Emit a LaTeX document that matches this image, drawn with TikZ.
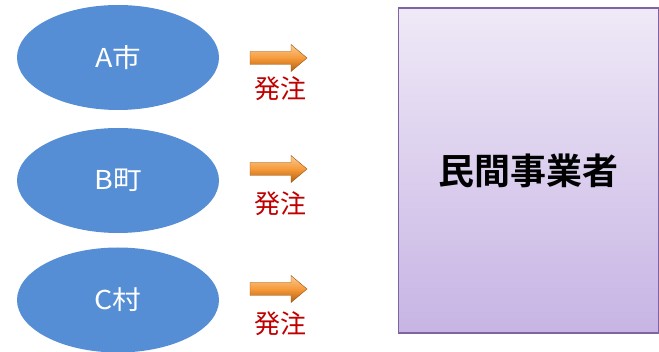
\documentclass[tikz,border=0pt]{standalone}
\usepackage{fontspec}
\usepackage{graphicx}
\newfontfamily\jp{Noto Sans CJK JP}
\newfontfamily\jpb{Noto Sans CJK JP Bold}
\definecolor{ellblue}{HTML}{558ED5}
\definecolor{hred}{HTML}{C00000}
\definecolor{pborder}{HTML}{8064A2}
\definecolor{ptop}{HTML}{EFE9F7}
\definecolor{pbot}{HTML}{C7B4E4}
\definecolor{otop}{HTML}{FCCB92}
\definecolor{omid}{HTML}{F59A3A}
\definecolor{obot}{HTML}{B5600E}
\usetikzlibrary{shapes.geometric}
\tikzset{
  city/.style={ellipse, fill=ellblue, minimum width=202pt, minimum height=105pt, inner sep=0pt, text=white, font=\jp\fontsize{26}{30}\selectfont},
  order/.style={text=hred, font=\jp\fontsize{26}{30}\selectfont, inner sep=0pt},
  biz/.style={draw=pborder, line width=1.5pt, top color=ptop, bottom color=pbot, minimum width=260pt, minimum height=325pt, inner sep=0pt, font=\jpb\fontsize{36}{40}\selectfont},
  arrowshade/.style={top color=otop, bottom color=obot, middle color=omid, draw=obot!85!black, line width=0.4pt},
}
\newcommand{\blockarrow}[2]{%
  \shade[arrowshade]
    (#1+0,#2-6.5) -- (#1+41,#2-6.5) -- (#1+41,#2-13.5) -- (#1+57,#2) -- (#1+41,#2+13.5) -- (#1+41,#2+6.5) -- (#1+0,#2+6.5) -- cycle;
}
\begin{document}
\begin{tikzpicture}[x=1pt,y=-1pt]
\useasboundingbox (0,0) rectangle (659,352);
\node[city] (a) at (118,57.5) {\scalebox{1.1}[1]{A市}};
\node[city] (b) at (118,180.5) {\scalebox{1.1}[1]{B町}};
\node[city] (c) at (118,300) {\scalebox{1.1}[1]{C村}};
\blockarrow{250}{58}
\blockarrow{250}{169}
\blockarrow{250}{289}
\node[order] (oa) at (280,89) {発注};
\node[order] (ob) at (280,204) {発注};
\node[order] (oc) at (280,324) {発注};
\node[biz, anchor=north west] (m) at (397.5,7.5) {民間事業者};
\end{tikzpicture}
\end{document}
